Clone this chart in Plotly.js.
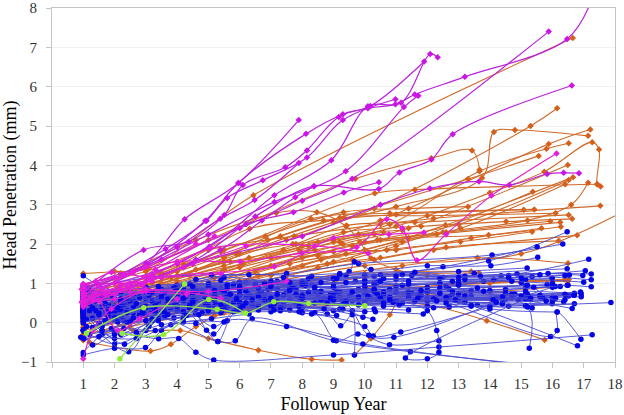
<!DOCTYPE html>
<html><head><meta charset="utf-8">
<script src="https://cdn.plot.ly/plotly-3.0.1.min.js"></script>
<style>html,body{margin:0;padding:0;background:#fff}#c{width:624px;height:415px}</style>
</head><body><div id="c"></div>
<script>
const tickValues=[0,1,2,3,4,5,6,7,8,9,10,11,12,13,14,15,16,17,18];
const tickLabels=['','1','2','3','4','5','6','7','8','9','10','11','12','13','14','15','16','17','18'];
const orangeLines=[
[[1,1.25],[2,1.3],[3.1,1.38],[6.44,3.24],[16.65,7.24]],
[[1,.95],[2.2,1.25],[4.6,2.1],[7.17,2.79],[8.47,2.81],[9.4,2.45],[9.85,2.05],[10.2,1.64],[11,1.35],[12,1.2]],
[[1,.85],[3,1.4],[5,2.1],[9.7,3.66],[12.13,4.18],[13.43,4.38],[13.67,3.89]],
[[1,.7],[3.2,1],[6,1.75],[9,2.55],[11,2.95],[13.75,3.68],[14.13,4.85],[14.8,4.9],[17.14,4.75]],
[[1,.6],[4,1.2],[7.5,2.1],[10.3,2.9],[15.3,5],[16.15,5.45]],
[[1,.5],[4,1.05],[8,1.95],[10.5,2.6],[15.88,4.54],[17.21,4.91]],
[[1,.45],[4,.95],[8.5,2.05],[10.8,2.5],[13.67,3.85],[15.81,4.42],[16.52,4.56]],
[[1,.4],[4,.85],[9,2.05],[11,2.45],[14,3.3],[15.74,3.84],[17.27,4.59],[17.49,4.4],[17.43,3.52],[17.54,3.46]],
[[1,.75],[3,1.15],[5.4,1.8],[10.32,3.29],[11.6,3.38],[17.43,3.52]],
[[1,.65],[4,1.3],[6.9,2.1],[9.2,2.67],[13.3,3.65],[15.56,4.24]],
[[1,.35],[4,.8],[9.3,2],[11.4,2.4],[16.49,4.01]],
[[1,.3],[4,.7],[7.6,1.5],[10,1.85],[12.58,2.48],[16.66,3.7]],
[[1,.25],[4,.7],[8,1.45],[10.4,2.1],[13,2.5],[16.52,3.63]],
[[1.1,.2],[4,.6],[6.6,1.2],[9,1.55],[11.2,2.05],[13.06,2.4],[16.41,3.52]],
[[1,.1],[4,.55],[8.5,1.4],[11,1.95],[15.37,3.33]],
[[1,.05],[3,.5],[6,1.05],[9.4,1.75],[12.5,2.3],[15.2,2.6],[16.6,3],[17.14,3.56]],
[[1,.9],[3,1.3],[5,1.85],[7.74,2.2],[10.5,2.5],[12.2,2.65],[17.53,2.97]],
[[1,.78],[3.5,1.25],[6.32,2.39],[8.68,2.6],[11,2.75],[15.08,2.87]],
[[1,.7],[3.5,1.15],[5.5,1.85],[6.82,2.2],[9.32,2.81],[11.4,2.9],[13.3,2.95]],
[[1,.58],[3.5,1],[5.5,1.65],[8.28,2.64],[10.8,2.78],[15.42,2.88]],
[[1,.52],[3,.95],[5.5,1.55],[7.3,2.2],[9.34,2.67],[12,2.72],[16.1,2.78]],
[[1,.48],[3,.9],[5.5,1.45],[7.8,2],[9.42,2.47],[11.6,2.55],[16.52,2.74]],
[[1,.42],[3,.8],[5.5,1.35],[7.4,1.85],[9.32,2.3],[11.8,2.45],[14.52,2.57],[16.63,2.64]],
[[1,.38],[3,.72],[6,1.4],[8.4,1.85],[10.5,2.1],[12.6,2.3],[15.93,2.58]],
[[1,.33],[3,.68],[5.2,1.15],[8,1.65],[10,2.05],[12.3,2.25],[16.25,2.55]],
[[1,.28],[3,.6],[7,1.45],[9.6,1.95],[11.4,2.15],[13.96,2.23],[16.27,2.44]],
[[1,.22],[3,.55],[6.5,1.3],[9,1.8],[11,1.85],[13.4,2.15],[15.65,2.4]],
[[1,.15],[3,.45],[6,1.05],[8.6,1.6],[10.7,1.85],[13.06,2.06],[15.35,2.31]],
[[1,.1],[3,.38],[7,1.2],[8.8,1.5],[10.5,1.65],[12.6,1.92],[16.2,2.08]],
[[1,.02],[3,.3],[7.5,1.2],[10.3,1.6],[12.2,1.85],[16.79,2.22]],
[[1,-.05],[3,.25],[7.5,1.1],[10,1.45],[15,1.75],[18.3,2.84]],
[[1,-.12],[3,.2],[7,.95],[11.2,1.45],[13.6,1.65],[16.5,1.51]],
[[1,-.2],[3,.15],[7,.85],[10,1.25],[13.4,1.3]],
[[1,-.3],[3,.05],[6,.6],[10,1.15],[13.65,1.27]],
[[1,-.35],[2.5,0],[7,.6],[11,.95],[14,1],[16.52,1.1]],
[[1,-.45],[2.5,-.1],[7,.42],[12,.7],[14,.78],[16,.9]],
[[1.2,-.5],[3.15,-.72],[3.8,-.55],[4.6,-.1],[5.5,.25],[8,.4],[14,.6]],
[[1,.55],[1.8,.1],[2.6,-.2],[4.1,-.2],[5,-.4],[6.6,-.7],[8.3,-.93],[9.26,-.95]],
[[9.67,-.82],[10.2,-.4],[10.8,.2],[11.3,.75],[16.5,1.05]],
[[1,.15],[3,.35],[9,.55],[12,.45],[13.9,.05],[15.75,-.44]],
[[1,.2],[3,.3],[5.2,.18],[7,.45],[10,.8],[16.4,1.1]],
[[2.1,.9],[4.2,1.5],[5.9,1.75],[7.7,2],[9,2.1],[10.6,2.3]],
[[2.4,.75],[4.6,1.35],[6.3,1.65],[8.2,1.95],[9.8,2.25],[11.2,2.35]],
[[2,.55],[4.4,1.2],[6.1,1.5],[7.9,1.85],[9.2,2.05],[10.3,2.25]],
[[1.6,.6],[3.8,1.15],[5.7,1.55],[7,1.65],[8.5,1.7],[9.6,1.6]]
];
const blueLines=[
[[1,1.19],[1.5,.95],[2.6,.72],[4.5,.85],[6.2,1.02],[8,1.05],[10,1.2],[13.96,1.57],[16.47,2.31]],
[[1.02,.9],[3.2,1.15],[5.1,1.22],[7.5,1.25],[9.8,1.5],[14.07,1.72],[16.33,2]],
[[1,.85],[2.2,.72],[4,.95],[6,1.02],[8,1.02],[10.3,1.18],[12.5,1.42],[15.51,1.93]],
[[1,.78],[2,.6],[3.5,.85],[5.5,1.15],[7.2,1.05],[9.5,1.3],[9.67,1.55],[10.2,1.35],[12,1.45],[14.03,1.45],[15.53,1.66]],
[[1,.72],[2.2,.52],[3.6,.75],[5.8,.92],[8.1,1],[10.5,1.22],[13,1.3],[15.19,1.39]],
[[1,.65],[2.4,.45],[4,.7],[6,.85],[8.3,.95],[11,1.1],[13.5,1.25],[16.47,1.37]],
[[1,.62],[2.2,.42],[3.4,.62],[5.1,.9],[7,.9],[9.4,1.2],[11.5,1.2],[14.36,1.19],[17.16,1.61]],
[[1,.6],[1.6,.4],[3,.6],[4.8,.78],[6.6,.82],[9.2,1.22],[11.2,1.22],[14.6,1.2],[17.05,1.32]],
[[.98,.55],[2,.38],[3.2,.55],[5.2,.72],[7.2,.85],[9.7,1.05],[12.5,1.15],[14.87,1.24],[17.24,1.24]],
[[1,.52],[2.1,.35],[3.4,.52],[5.5,.75],[7.8,.85],[10.4,1.02],[13.2,1.18],[15.86,1.25],[16.97,1.2]],
[[.98,.5],[1.9,.3],[3.3,.48],[5.1,.65],[7.5,.78],[10.3,.95],[13,1.05],[15.35,1.17],[17.24,1.09]],
[[1,.48],[2,.28],[3.6,.45],[5.6,.62],[8,.72],[11,.92],[13.8,1.05],[15.99,1.13]],
[[1,.42],[1.8,.32],[3,.42],[4.6,.6],[6.8,.7],[9.8,.85],[12.4,1],[15.14,1.1],[17,1.03]],
[[1,.4],[2.1,.25],[3.4,.38],[5.2,.58],[7.2,.68],[10,.82],[12.6,.92],[14.12,1.09],[16.54,1.21]],
[[1,.38],[2,.22],[3.1,.35],[5,.55],[6.7,.62],[9.2,.78],[12,.9],[15.14,.94],[16.47,.95],[17.24,.91]],
[[1,.35],[2.2,.2],[3.8,.35],[5.6,.5],[7.6,.6],[10,.72],[12.7,.85],[15.83,.97]],
[[1,.3],[1.9,.18],[3.2,.3],[4.9,.48],[6.9,.55],[9.5,.68],[12,.78],[14.5,.85],[16.25,.92]],
[[.98,.28],[2.2,.15],[3.5,.28],[5.3,.45],[7.1,.52],[9.2,.65],[11.5,.75],[14,.82],[16.09,.92]],
[[1,.25],[2,.15],[3.3,.25],[5.2,.42],[7.4,.5],[10.2,.62],[12.8,.72],[15.14,.8],[16.92,.73]],
[[1,.22],[2.2,.12],[3.7,.22],[5.6,.38],[7.8,.48],[10.4,.6],[13.4,.68],[16.52,.68]],
[[1,.2],[1.8,.1],[3,.2],[4.6,.35],[6.4,.45],[9,.58],[12,.62],[14.7,.62],[16.92,.66]],
[[1,.15],[2,.08],[3.4,.18],[5,.32],[7.1,.42],[9.6,.55],[12.6,.6],[15.6,.65],[16.68,.7]],
[[1,.1],[2.3,.05],[3.6,.15],[5.4,.3],[7.4,.4],[10,.52],[12.2,.58],[14.5,.6],[16,.65]],
[[1,.05],[2.4,.02],[3.9,.12],[5.8,.28],[8,.38],[10.6,.5],[13,.55],[15.3,.58]],
[[1,-.2],[1.5,-.02],[2.6,.25],[4,.55],[6,.7],[8.4,.82],[10.8,.85],[13.4,.82],[15.14,.72]],
[[1,-.18],[2,.15],[3.4,.5],[5.2,.72],[7.6,.9],[10,.92],[12.4,.88],[14.5,.75],[15.7,.62]],
[[.92,-.37],[1.6,-.1],[2.8,.2],[4.4,.48],[6.4,.62],[9,.72],[11.7,.7],[14.2,.62],[16.36,.53]],
[[1.02,-.41],[2,-.25],[3.2,.1],[5,.42],[7.2,.55],[9.8,.62],[12,.55],[14.4,.5],[15.99,.48]],
[[1,-.76],[1.6,-.3],[2.5,.05],[4,.32],[6,.48],[8.6,.55],[11.2,.5],[13.6,.45],[16.7,.48]],
[[1,-.82],[2,-.65],[2.99,-.63],[3.5,-.2],[4.6,.22],[6.6,.42],[9.4,.48],[12,.42],[14.6,.42],[17.87,.51]],
[[1,.58],[2.3,.5],[4.1,.62],[6.2,.62],[8.7,.62],[10.6,.7],[12.7,.65],[14.9,.58],[16.63,.36]],
[[1,.68],[2.6,.58],[4.3,.68],[6.3,.72],[8.5,.68],[11.4,.65],[13.2,.52],[15.14,.43]],
[[1,.75],[2.8,.62],[4.5,.72],[6.7,.78],[8.9,.72],[11,.78],[13.4,.45],[15.35,.37]],
[[1,.8],[3,.68],[4.8,.8],[6.9,.85],[9.1,.78],[11.8,.7],[14,.35],[16.15,.27]],
[[1,.32],[1.7,.25],[2.9,.4],[4.4,.45],[5.4,.3],[6.6,.42],[9,.3],[10.26,.09]],
[[1,.45],[2.6,.32],[4,.42],[5.8,.52],[7.3,.38],[9.2,.35],[9.94,.14]],
[[1,.12],[2.2,.3],[3.6,.3],[5.5,.4],[7.6,.32],[9.6,.3],[10.34,.28],[11.87,.22]],
[[1,.02],[2,.22],[3.2,.32],[4.8,.25],[7,.28],[8.8,.22],[9.23,-.08],[9.6,.2],[9.67,-.82]],
[[1.02,-.22],[1.3,-.57],[2,-.3],[3.41,-.41],[4.05,-.4],[4.6,-.75],[5.17,-.95],[9,-.82],[12.37,-.62],[17.27,-.31]],
[[1,-.2],[2,-.54],[3,-.2],[3.6,.25],[5.4,.45],[7,.42],[8.4,.25],[9.09,-.46],[9.78,-.29],[10.79,-.56],[12.37,-.46]],
[[1.3,.12],[2.32,-.55],[3.4,.1],[5.3,-.48],[5.86,-.46],[6.4,.1],[9,-.45],[11.46,-.74],[15.7,-1.1]],
[[1,.18],[2.45,-.74],[3.1,-.1],[4.2,.28],[5.17,-.29],[5.6,.05],[7.5,-.1],[9.94,-.54],[15.4,-1.1]],
[[1,.28],[2,-.4],[3.2,.05],[4.4,.38],[4.94,-.19],[5.3,-.48],[5.9,.3],[8,.25],[10,-.1],[10.27,-.34],[11.15,-.24],[16,.9]],
[[1,.4],[1.7,.05],[2.8,.3],[4,.55],[5.17,-.1],[5.86,.3],[7,.55],[9.3,.55],[10.13,-.32],[10.93,-.37],[14.8,.72]],
[[1,.5],[2,.42],[3.8,.6],[5.5,.78],[7.9,.65],[11,.55],[12,.3],[12.3,-.2],[12.37,-.75],[12,-.92],[11.3,-.9],[15.14,.6]],
[[1,.35],[2.2,.48],[4,.7],[6,.55],[8.4,.5],[10.8,.65],[12,.8],[15.2,.4],[15.26,-.65]],
[[1,.62],[2.5,.55],[4.5,.78],[6.6,.68],[9,.72],[11.4,.78],[15.94,-.35],[16.15,-.2],[16.15,.27],[16.91,-.42]],
[[1,.7],[2.4,.62],[4.2,.85],[6.5,.98],[9,.98],[11.2,.95],[16.8,-.59]],
[[1.05,.92],[2.5,.78],[4.2,.9],[6,.98],[8.2,1.12],[10.3,1],[13,.98],[15,1.02],[16,.55]],
[[1,.55],[1.8,.45],[3.5,.72],[5.4,.85],[7.7,.92],[10.3,.85],[12.8,.8],[14.7,.72],[16.7,.75]],
[[1,.46],[2.3,.38],[4.2,.55],[6.2,.8],[8.6,.8],[10.6,.78],[13,.72],[15.2,.72],[16.9,.78]],
[[1,.36],[2,.35],[3.9,.5],[6,.72],[8.2,.78],[10.4,.72],[13.2,.68],[15.6,.7],[16.4,.72]],
[[1,.24],[2.1,.3],[3.7,.48],[5.6,.68],[7.8,.72],[10.1,.68],[12.6,.64],[15,.68],[16.7,.7]],
[[1,.16],[1.9,.28],[3.3,.45],[5.2,.65],[7.4,.7],[9.8,.65],[12.2,.6],[14.4,.65],[16.1,.62]],
[[1.1,.08],[2.4,.25],[4,.42],[5.9,.62],[8,.68],[10.5,.62],[12.9,.58],[15.3,.62]],
[[1,0],[1.8,.2],[3,.38],[4.5,.6],[6.6,.65],[9,.6],[11.6,.55],[14.1,.58],[16.4,.58]],
[[1.2,.3],[2.6,.42],[4.6,.82],[6.6,.88],[9,.9],[11.4,.98],[13,.95],[15.4,.9],[16.5,.95]],
[[1,.66],[2.2,.58],[3.9,.9],[5.8,.98],[8.1,.95],[10,1.08],[12.4,1.12],[14.7,1.05],[16,1]],
[[1,.74],[2.6,.7],[4.6,1.1],[6.3,1.22],[8.3,1.18],[10.6,1.12],[13.2,1.1],[15,1.15],[16.4,1.2]],
[[1.2,.82],[3,.78],[5,1],[7,1.05],[9,1.12],[11,1.18],[13.7,1.18],[15.6,1.22]],
[[1.4,.55],[3.1,.7],[5,.92],[7.4,1.15],[9.2,1.25],[11.6,1.28],[13,1.15],[14.6,1.15]],
[[1.6,.4],[3,.9],[4.4,.98],[6.8,1],[8.4,.9],[10.3,.8],[12.4,.75],[13.8,.8]],
[[1.5,.25],[2.8,.65],[4.2,.78],[6,.85],[8,.62],[9.4,.55],[11.1,.45],[12.7,.4],[14,.42]],
[[1.8,.35],[3.2,.55],[4.9,.65],[6.8,.58],[8.8,.5],[10.6,.42],[12.2,.38],[13.4,.42],[14.4,.48]],
[[2,.3],[3.5,.62],[5.2,.55],[7,.62],[9,.58],[10.9,.52],[12.6,.5],[14.2,.52],[15.8,.55]],
[[1.7,.5],[3.6,.78],[5.6,.88],[7.6,.82],[9.6,.78],[11.8,.82],[13.6,.88],[15.2,.95]],
[[2.2,.6],[4,.82],[6,.92],[8,.98],[10,1],[11.4,1.05],[12.8,1.05]],
[[1.4,.75],[3.4,.92],[5.4,1.08],[7.6,1.02],[9.4,1.02],[10.5,1.05]],
[[1.6,.65],[3.2,.78],[5.2,.82],[7,.92],[8.6,1.02],[9.1,1.12]],
[[1.3,.38],[2.7,.48],[4.3,.68],[6.4,.58],[8.2,.48],[9.8,.45],[10.6,.5],[11.7,.62]],
[[1.2,.48],[2.4,.3],[3.7,.6],[5.7,.72],[7.2,.72],[8.9,.62],[10.8,.58],[12.3,.55]],
[[1.5,.2],[2.9,.28],[4.5,.52],[6.2,.5],[7.9,.42],[9.3,.35],[10.3,.35],[11.4,.32]],
[[1.1,-.1],[2.1,.02],[3.3,.3],[4.2,.62],[5.9,.6],[7.1,.48],[8.7,.35],[10,.28]],
[[1.3,-.12],[2.6,.12],[3.6,.2],[5,.35],[6.1,.42],[7.3,.3],[8.3,.22],[9.1,.18]],
[[1.9,-.15],[3,.05],[4.2,.12],[5.4,.25],[6.6,.32],[7.9,.28]],
[[2.2,-.3],[3.4,.05],[4.7,.2],[6,.35],[7.1,.32]],
[[1.5,-.35],[2.7,-.4],[3.8,-.05],[5.1,.1],[6.3,.22]],
[[1.2,-.3],[2.3,-.15],[3.3,-.2],[4.2,.02],[5.5,.02]],
[[1.6,-.2],[2.7,-.25],[3.5,-.05],[4.6,-.02]],
[[1,.92],[1.9,.7],[3.1,.8],[4.5,.92],[5.6,.95]],
[[1.1,.65],[2.2,.35],[3.3,.32],[4.4,.42],[5,.3]],
[[1.4,.3],[2.1,.38],[2.9,.25],[3.7,.2],[4.3,.18]]
];
const magentaHigh=[
[[1,.85],[3,1.5],[4.24,2.63],[5.96,3.55],[7.89,5.15]],
[[1,.9],[3.04,1.49],[4.9,2.59],[5.96,3.55],[8.12,4.8],[9.3,5.3],[10.18,5.51],[11.9,6.64]],
[[1,.75],[2.93,1.85],[4.37,2.06],[5.51,2.74],[6.1,3.5],[7.46,3.95],[8.15,4.38],[9.17,5.23],[10.1,5.45],[10.98,5.55],[11.6,5.8],[13.2,6.25],[16.47,7.21],[17.3,8.3]],
[[1,.7],[3.63,1.87],[4.94,2.59],[5.6,3.17],[6.74,3.62],[8.15,4.2],[9.3,5.15],[10.98,5.68]],
[[1,.62],[4,1.92],[5.38,2.64],[6.48,3.12],[7.89,4.06]],
[[1,.55],[5.03,1.93],[7.11,3.24],[8.93,4.13],[10.1,5.5],[11.16,5.59],[12.09,6.83],[12.33,6.75]],
[[1,.6],[5,2.24],[7.11,3.07],[9.39,3.85],[11.25,5.48],[11.71,5.77]],
[[1,.5],[5.38,1.85],[6.71,2.6],[7.78,3.19],[8.38,3.47]],
[[1,.8],[4,1.5],[6.2,2.5],[7.72,2.81],[9.33,3.31],[10.45,3.57]],
[[1,.45],[4.6,1.6],[6.5,2.7],[8.37,3.47],[10.45,3.4],[11.11,3.82],[12.13,4.15],[12.81,4.79],[16.62,6.03]],
[[1,.95],[3.5,1.6],[6,2.4],[8,3.1],[9.6,3.66],[15.88,7.4]],
[[1,.4],[4.5,1.5],[8,2.2],[10.5,3],[12.08,3.41],[13.65,3.59],[14.62,3.5],[15.83,3.78],[16.36,3.81],[16.85,3.8]]
];
const magentaLow=[
[[1,.98],[2,1.15],[4,1.55],[6.02,1.55],[7.99,1.77],[9.74,1.92],[10.7,2.63],[11.2,2.4],[11.67,1.59],[12.6,2.25],[14.05,3.23],[16.13,4.3]],
[[.98,.55],[2.2,.95],[3.2,1.2],[5.06,1.89],[8.4,1.95],[10.11,1.76]],
[[1,.48],[2,.72],[3.5,1.15],[7.11,1.43],[9,2.15],[10.77,2.25],[11.89,2.29]],
[[1,.5],[1.8,.8],[3,.85],[5,.79],[7.5,1.05]],
[[.95,.52],[2,1],[3,1.05],[4.2,1.4],[6.2,1.95]],
[[1.02,.42],[2.4,.9],[3.3,1.35],[5.2,2.2]],
[[1,.98],[1.4,1.05],[2.6,1.28],[4.6,2]],
[[1.02,.88],[1.9,1.28],[3.1,1.15],[5.4,1.25]],
[[1,-.92],[1.3,-.2],[1.9,.35],[3,.8],[5.4,.62]],
[[1,.7],[1.5,.55],[2.1,-.2],[2.8,.1],[4,.6]],
[[1,.55],[1.7,.72],[2.5,.78],[4.3,.72]],
[[1,.65],[1.5,.95],[2.5,1],[3.2,1.05]],
[[1,.45],[1.4,.75],[2.2,.85],[2.9,.95]],
[[.95,.85],[1.3,.6],[2,.6],[2.9,.8]],
[[1,.75],[1.6,.85],[2.3,1.2],[3,1.42]]
];
const greenLines=[
[[1.1,-.27],[2.93,.38],[5.28,.34],[6.18,.24],[7.09,.53],[8.2,.49],[10,.43]],
[[2.24,-.27],[3.57,-.3],[5.01,.59],[6.18,.24]],
[[2.17,-.92],[4.24,.98]]
];
function toTrace(points,lineColor,markerColor,symbol,size,lw){
  return {x:points.map(p=>p[0]),y:points.map(p=>p[1]),type:'scatter',mode:'lines+markers',
    line:{shape:'spline',smoothing:1,color:lineColor,width:lw},
    marker:{symbol:symbol,size:size,color:markerColor},hoverinfo:'skip',showlegend:false};
}
const traces=[]
  .concat(orangeLines.map(p=>toTrace(p,'#cf6a2c','#d4601c','diamond',5,1.1)))
  .concat(blueLines.map(p=>toTrace(p,'#4848d0','#0404e4','circle',5.5,.9)))
  .concat(magentaHigh.map(p=>toTrace(p,'#bb22dd','#cc14e6','diamond',5,1.2)))
  .concat(magentaLow.map(p=>toTrace(p,'#e022d0','#e41ce0','diamond',5,1.2)))
  .concat(greenLines.map(p=>toTrace(p,'#8fdc50','#90ee38','circle',5.5,1.4)));
const font={family:'"Liberation Serif",serif'};
const layout={width:624,height:415,margin:{l:51.5,r:9,t:8,b:53},paper_bgcolor:'#fff',plot_bgcolor:'#fff',showlegend:false,
  xaxis:{range:[0,18],tickmode:'array',tickvals:tickValues,ticktext:tickLabels,ticks:'outside',ticklen:5,tickcolor:'#c4c4c4',
    showline:true,mirror:true,linecolor:'#c4c4c4',linewidth:1,showgrid:false,zeroline:false,ticklabelstandoff:3,
    tickfont:{family:font.family,size:15,color:'#333'},
    title:{text:'Followup Year',font:{family:font.family,size:18,color:'#000'},standoff:6}},
  yaxis:{range:[-1,8],dtick:1,ticks:'outside',ticklen:5,tickcolor:'#c4c4c4',
    showline:true,mirror:true,linecolor:'#c4c4c4',linewidth:1,showgrid:true,gridcolor:'#f1f1f1',zeroline:false,ticklabelstandoff:6,
    tickfont:{family:font.family,size:15,color:'#333'},
    title:{text:'Head Penetration (mm)',font:{family:font.family,size:18,color:'#000'},standoff:6}}
};
Plotly.newPlot('c',traces,layout,{displayModeBar:false,staticPlot:true});
</script></body></html>
